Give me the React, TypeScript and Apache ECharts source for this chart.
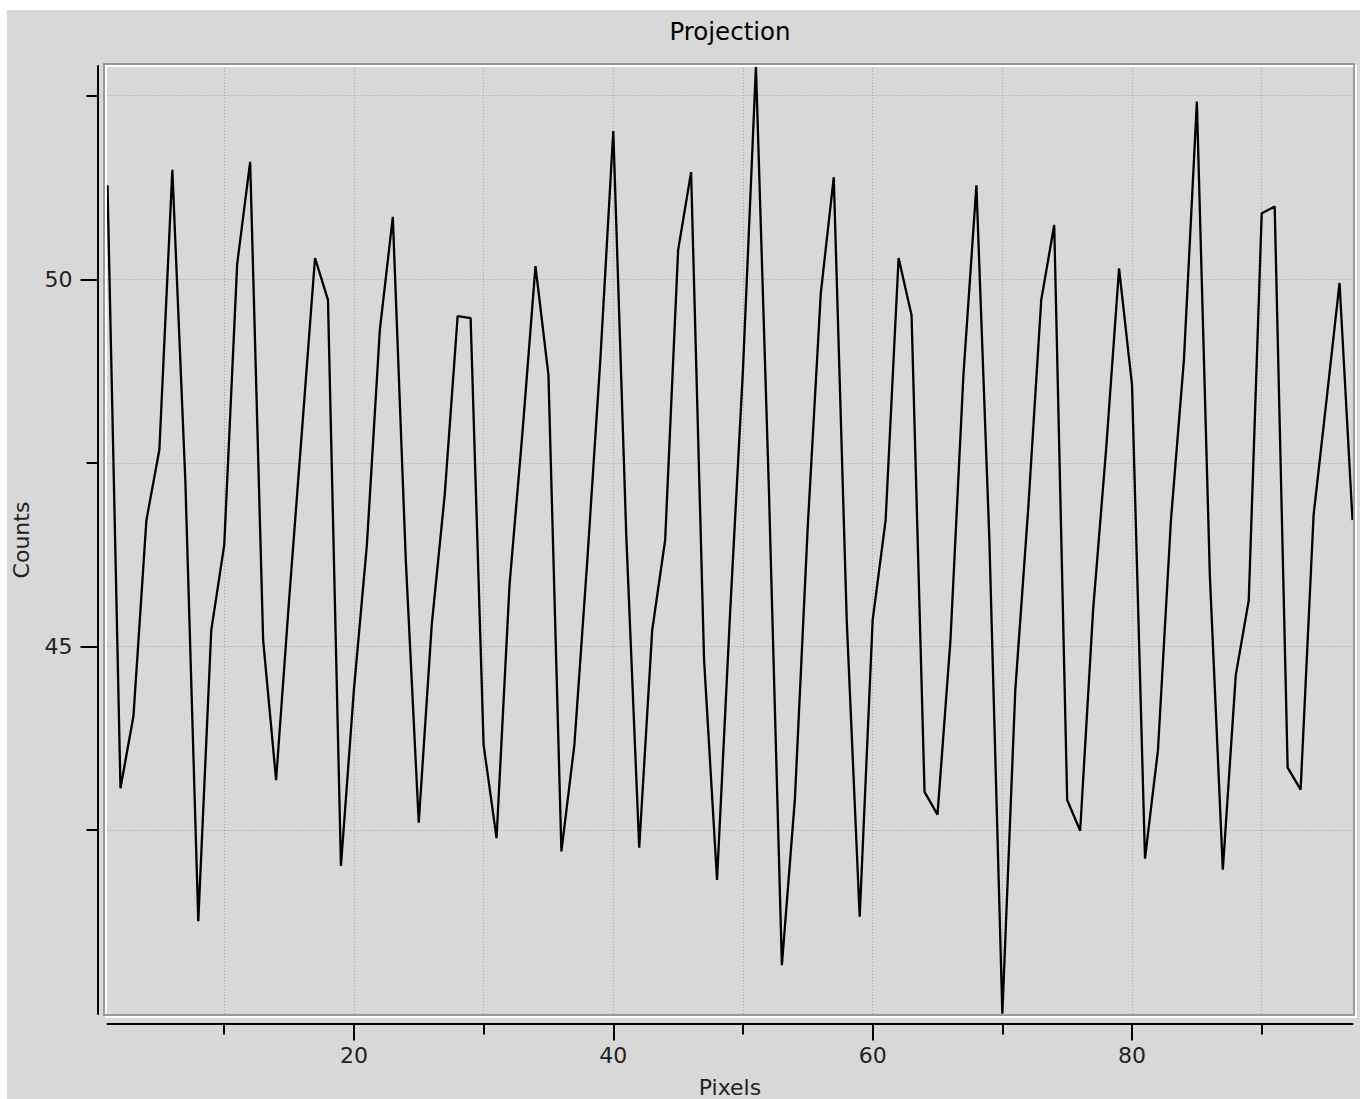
import React, { useEffect, useRef } from "react";
import * as echarts from "echarts";

// Projection profile: counts per pixel (pixel index starts at firstPixel)
const firstPixel = 1;
const counts = [
  51.28, 43.07, 44.05, 46.72, 47.68, 51.49, 47.27, 41.26, 45.22, 46.38,
  50.21, 51.6, 45.09, 43.18, 45.63, 47.95, 50.29, 49.72, 42.01, 44.41,
  46.38, 49.31, 50.85, 46.18, 42.6, 45.29, 47.06, 49.5, 49.47, 43.66,
  42.39, 45.84, 47.92, 50.18, 48.7, 42.21, 43.66, 46.18, 48.9, 52.02,
  46.52, 42.26, 45.22, 46.45, 50.4, 51.46, 44.82, 41.82, 45.43, 48.77,
  52.9, 47.13, 40.66, 42.91, 46.65, 49.81, 51.39, 45.36, 41.32, 45.36,
  46.72, 50.29, 49.51, 43.02, 42.71, 45.09, 48.7, 51.28, 46.45, 40.0,
  44.41, 46.89, 49.72, 50.74, 42.91, 42.49, 45.5, 47.68, 50.15, 48.56,
  42.11, 43.59, 46.72, 48.9, 52.42, 45.97, 41.96, 44.61, 45.63, 50.9,
  50.99, 43.35, 43.05, 46.79, 48.36, 49.95, 46.72,
];

const xMin = 1;
const xMax = 97;
const yMin = 39.995;
const yMax = 52.905;
const xGridValues = [10, 20, 30, 40, 50, 60, 70, 80, 90];
const xLabelValues = [20, 40, 60, 80];
const yGridValues = [42.5, 45, 47.5, 50, 52.5];
const yLabelValues = [45, 50];

const chartTitle = "Projection";
const xTitle = "Pixels";
const yTitle = "Counts";

const FONT = "DejaVu Sans";

export default function App() {
  const ref = useRef<HTMLDivElement>(null);

  useEffect(() => {
    if (!ref.current) return;
    const chart = echarts.init(ref.current, null, { renderer: "svg" });

    const lineData = counts.map((v, i) => [firstPixel + i, v]);
    const tickStyle = { color: "#000", width: 2 };
    const labelStyle = { fontSize: 22, fontFamily: FONT, color: "#222" };

    const option: any = {
      animation: false,
      backgroundColor: "transparent",
      grid: { left: 100.5, top: 56, width: 1245, height: 948, show: false },
      xAxis: [
        {
          type: "value", min: xMin, max: xMax, position: "bottom", offset: 9.5,
          axisLine: { show: true, onZero: false, lineStyle: { color: "#000", width: 2 } },
          axisTick: { show: true, customValues: xGridValues, length: 11, lineStyle: tickStyle },
          axisLabel: { show: false },
          splitLine: { show: false },
        },
        {
          type: "value", min: xMin, max: xMax, position: "bottom", offset: 9.5,
          axisLine: { show: false, onZero: false },
          axisTick: { show: true, customValues: xLabelValues, length: 17, lineStyle: tickStyle },
          axisLabel: { show: true, customValues: xLabelValues, margin: 21, ...labelStyle },
          splitLine: { show: false },
        },
      ],
      yAxis: [
        {
          type: "value", min: yMin, max: yMax, position: "left", offset: 10,
          axisLine: { show: true, onZero: false, lineStyle: { color: "#000", width: 2 } },
          axisTick: { show: true, customValues: yGridValues, length: 11, lineStyle: tickStyle },
          axisLabel: { show: false },
          splitLine: { show: false },
        },
        {
          type: "value", min: yMin, max: yMax, position: "left", offset: 10,
          axisLine: { show: false, onZero: false },
          axisTick: { show: true, customValues: yLabelValues, length: 17, lineStyle: tickStyle },
          axisLabel: { show: true, customValues: yLabelValues, margin: 25, ...labelStyle },
          splitLine: { show: false },
        },
      ],
      graphic: [
        {
          type: "rect", z: 20, silent: true,
          shape: { x: 99, y: 56, width: 1250, height: 951 },
          style: { fill: "none", stroke: "#ffffff", lineWidth: 2 },
        },
        {
          type: "rect", z: 21, silent: true,
          shape: { x: 97, y: 54, width: 1250, height: 951 },
          style: { fill: "none", stroke: "#9a9a9a", lineWidth: 2 },
        },
        {
          type: "text", x: 723, y: 21,
          style: { text: chartTitle, fontSize: 24.5, fontFamily: FONT, fill: "#000", align: "center", verticalAlign: "middle" },
        },
        {
          type: "text", x: 723, y: 1077,
          style: { text: xTitle, fontSize: 22, fontFamily: FONT, fill: "#222", align: "center", verticalAlign: "middle" },
        },
        {
          type: "text", x: 14, y: 530, rotation: Math.PI / 2,
          style: { text: yTitle, fontSize: 22, fontFamily: FONT, fill: "#222", align: "center", verticalAlign: "middle" },
        },
      ],
      series: [
        {
          type: "line", xAxisIndex: 0, yAxisIndex: 0, data: [], z: 1, silent: true,
          markLine: {
            z: 1, silent: true, symbol: ["none", "none"], label: { show: false },
            lineStyle: { color: "#a3a3a3", type: [1, 2], width: 1 },
            data: [
              ...xGridValues.map((v) => ({ xAxis: v })),
              ...yGridValues.map((v) => ({ yAxis: v })),
            ],
          },
        },
        {
          type: "line", xAxisIndex: 0, yAxisIndex: 0, data: lineData, z: 10,
          symbol: "none", showSymbol: false, silent: true,
          lineStyle: { color: "#000", width: 2.3 },
        },
      ],
    };

    chart.setOption(option);
    return () => chart.dispose();
  }, []);

  return (
    <div
      ref={ref}
      style={{ position: "absolute", left: 7, top: 10, width: 1353, height: 1089, background: "#d8d8d8" }}
    />
  );
}
